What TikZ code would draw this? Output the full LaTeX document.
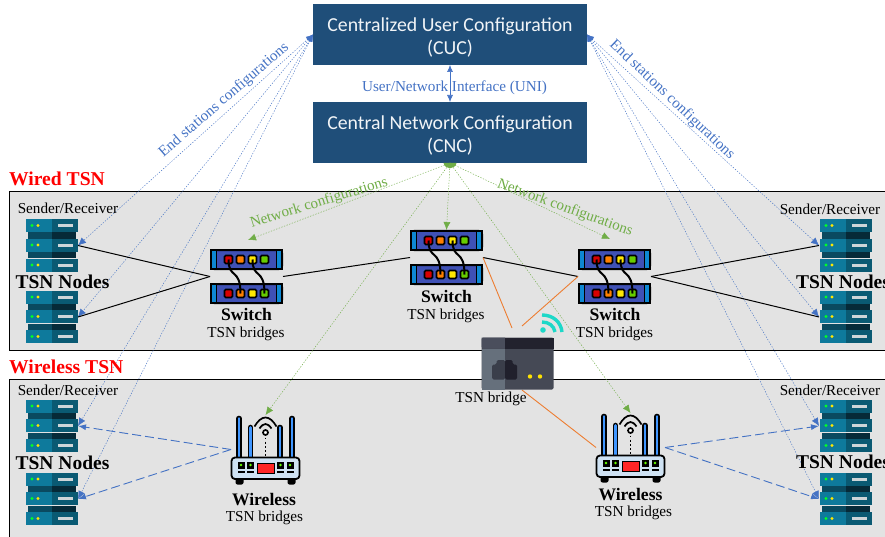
\documentclass[tikz,border=0pt]{standalone}
\usepackage{fontspec}
\setmainfont{Liberation Serif}
\newfontfamily\boxfont{Carlito}
\usetikzlibrary{arrows.meta}

\definecolor{boxblue}{HTML}{1F4E79}
\definecolor{panelgray}{HTML}{E3E3E3}
\definecolor{linkblue}{HTML}{4472C4}
\definecolor{linkgreen}{HTML}{70AD47}
\definecolor{linkorange}{HTML}{ED7D31}
\definecolor{switchblue}{HTML}{3F51B5}
\definecolor{routerblue}{HTML}{CFE2F3}
\definecolor{wifiteal}{HTML}{1DD8C8}
\definecolor{serverA}{HTML}{0E7A9C}
\definecolor{serverB}{HTML}{0A5A73}
\definecolor{serverC}{HTML}{0A4A60}
\definecolor{serverD}{HTML}{062A38}
\definecolor{bridgeA}{HTML}{4A4E5C}
\definecolor{bridgeB}{HTML}{22222E}
\definecolor{bridgeC}{HTML}{66707C}
\definecolor{bridgeD}{HTML}{454955}
\definecolor{socketA}{HTML}{3A3E4A}
\definecolor{socketB}{HTML}{20202C}

\tikzset{
    panel/.style={draw=black,fill=panelgray,line width=0.9pt},
    cfgbox/.style={fill=boxblue,text=white!94!boxblue,minimum width=274pt,minimum height=61pt,
        inner sep=0pt,outer sep=0pt,align=center,font=\boxfont\fontsize{19.8}{23}\selectfont},
    hostbox/.style={minimum width=53pt,minimum height=53pt,inner sep=0pt,outer sep=0pt},
    switchbox/.style={minimum width=73pt,minimum height=55pt,inner sep=0pt,outer sep=0pt},
    routerbox/.style={minimum width=69pt,minimum height=69pt,inner sep=0pt,outer sep=0pt},
    bridgebox/.style={minimum width=73pt,minimum height=53pt,inner sep=0pt,outer sep=0pt},
    cfglink/.style={line width=0.45pt,dash pattern=on 1.3pt off 1.5pt},
    bluelink/.style={cfglink,linkblue,{Latex[length=7pt,width=6pt]}-{Latex[length=8pt,width=7pt]}},
    greenlink/.style={cfglink,linkgreen,-{Latex[length=8pt,width=7pt]}},
    wirelink/.style={black,line width=1pt},
    radiolink/.style={linkblue,line width=0.9pt,dash pattern=on 9pt off 4pt,-{Latex[length=8pt,width=6pt]}},
    bridgelink/.style={linkorange,line width=0.9pt},
    title/.style={red,font=\bfseries\fontsize{19.6}{22}\selectfont,anchor=west,inner sep=0pt},
    small/.style={font=\fontsize{15.2}{17}\selectfont,inner sep=0pt},
    big/.style={font=\bfseries\fontsize{19.5}{22}\selectfont,inner sep=0pt},
    devname/.style={font=\bfseries\fontsize{17.6}{20}\selectfont,inner sep=0pt},
    bluetext/.style={linkblue,font=\fontsize{15.2}{17}\selectfont,inner sep=0pt},
    greentext/.style={linkgreen,font=\fontsize{15}{17}\selectfont,inner sep=0pt},
    % stack of three server units
    pics/serverstack/.style={code={
        \foreach \y in {-10,9.5} {
            \fill[serverC] (-24,\y-3) rectangle (0,\y+3);
            \fill[serverD] (0,\y-3) rectangle (24,\y+3);
        }
        \foreach \y in {-20,-0.5,19.5} {
            \fill[serverA] (-26,\y-6.5) rectangle (0,\y+6.5);
            \fill[serverB] (0,\y-6.5) rectangle (26,\y+6.5);
            \fill[green!85!cyan] (-19.5,\y) circle (1.6);
            \fill[yellow!90!orange] (-13.5,\y) circle (1.6);
            \fill[cyan!15!gray!40!white] (6.5,\y-1.5) rectangle (21.5,\y+1.5);
        }
    }},
    % two switch units with patch cables
    pics/switchstack/.style={code={
        \foreach \y in {-17,17} {
            \draw[black,line width=2pt,fill=switchblue,rounded corners=3pt] (-35.5,\y-9.5) rectangle (35.5,\y+9.5);
            \draw[black,line width=1.6pt,fill=cyan!70!blue] (-35.5,\y-9.5) rectangle (-30,\y+9.5);
            \draw[black,line width=1.6pt,fill=cyan!70!blue] (30,\y-9.5) rectangle (35.5,\y+9.5);
            \foreach \x/\c in {-18/red!85!black,-6/orange,6/yellow!90!orange,18/green!50!yellow!80!black} {
                \draw[black,line width=1.6pt,fill=\c,rounded corners=1.2pt] (\x-4,\y-4) rectangle (\x+4,\y+4);
            }
        }
        \foreach \x in {-18,6} {
            \draw[black,line width=2pt] (\x,-17) .. controls (\x,3) and (\x+12,-9) .. (\x+12,17);
        }
    }},
    % router with four antennas
    pics/routericon/.style={code={
        \foreach \x/\t in {-26.5/-33,-15/-24,14.5/-24,26.5/-33} {
            \draw[black,line width=5.6pt,line cap=round] (\x,\t+2) -- (\x,8);
            \draw[blue!55!cyan!75!white,line width=2.8pt,line cap=round] (\x,\t+2) -- (\x,8);
        }
        \draw[black,line width=1.7pt] (-11,-23) .. controls (-4,-35) and (4,-35) .. (11,-23);
        \draw[black,line width=1.7pt] (-6,-21) .. controls (-2,-27) and (2,-27) .. (6,-21);
        \draw[black,line width=1.7pt,fill=white] (0,-17) circle (2.5);
        \draw[black,line width=1.8pt,dash pattern=on 1.8pt off 2.4pt] (0,-12) -- (0,7);
        \fill[black,rounded corners=2pt] (-30,27) rectangle (-22,35);
        \fill[black,rounded corners=2pt] (22,27) rectangle (30,35);
        \draw[black,line width=1.8pt,fill=routerblue,rounded corners=3.5pt] (-34,8) rectangle (34,29.5);
        \draw[black,line width=1pt,fill=red!80!pink] (-8.5,14) rectangle (8.5,23.5);
        \foreach \x in {-24.5,-15,15,24.5} {
            \fill[black] (\x-3.5,12) rectangle (\x+3.5,19);
            \fill[green!60!yellow] (\x,15.5) circle (1.4);
            \fill[black] (\x-3.5,21) rectangle (\x+3.5,23);
        }
    }},
    % gateway box with ethernet socket
    pics/bridgeicon/.style={code={
        \fill[bridgeD,rounded corners=1.5pt] (-36,-26) rectangle (36,26);
        \fill[bridgeA] (-36,-26) [rounded corners=1.5pt] -- (-36,-15) [sharp corners] -- (-12.5,-15) -- (-12.5,-26) -- cycle;
        \fill[bridgeB] (-12.5,-26) rectangle (36,-15);
        \fill[bridgeC] (-36,-15) rectangle (-12.5,26);
        \fill[socketA,rounded corners=1.5pt] (-25.5,1) -- (-21,1) -- (-21,-3.5) -- (-12.5,-3.5) -- (-12.5,16) -- (-25.5,16) -- cycle;
        \fill[socketB,rounded corners=1.5pt] (-12.5,-3.5) -- (-5,-3.5) -- (-5,1) -- (-0.5,1) -- (-0.5,16) -- (-12.5,16) -- cycle;
        \fill[yellow!85!orange] (12.5,13) circle (2.2);
        \fill[yellow!85!orange] (22.5,13) circle (2.2);
    }},
    % wifi signal
    pics/wifimark/.style={code={
        \fill[wifiteal] (0,0) circle (2.8);
        \draw[wifiteal,line width=3.4pt] (-1,-8) .. controls (6,-8) and (11,-4) .. (12,2);
        \draw[wifiteal,line width=3.4pt] (-1,-15) .. controls (10,-15) and (18,-8) .. (19,2);
    }},
}

\begin{document}
\begin{tikzpicture}[x=1pt,y=-1pt]

    \useasboundingbox (0,0) rectangle (885,537);
    \begin{scope}
    \clip (0,0) rectangle (885,537);

    % Panels
    \draw[panel] (9,191.5) rectangle (895,350);
    \draw[panel] (9,379) rectangle (895,537);

    % Device positions
    \node[cfgbox] (cuc) at (450,34.5) {\rule{0pt}{19pt}Centralized User Configuration\\(CUC)};
    \node[cfgbox] (cnc) at (450,132.5) {\rule{0pt}{19pt}Central Network Configuration\\(CNC)};
    \node[hostbox] (hostA) at (51.5,245.5) {};
    \node[hostbox] (hostB) at (51.5,317) {};
    \node[hostbox] (hostC) at (51.5,426) {};
    \node[hostbox] (hostD) at (51.5,499) {};
    \node[hostbox] (hostE) at (845.5,245.5) {};
    \node[hostbox] (hostF) at (845.5,317) {};
    \node[hostbox] (hostG) at (845.5,426) {};
    \node[hostbox] (hostH) at (845.5,499) {};
    \node[switchbox] (switchL) at (246.5,276.5) {};
    \node[switchbox] (switchM) at (446.5,257.5) {};
    \node[switchbox] (switchR) at (614.5,276.5) {};
    \node[routerbox] (routerL) at (265.5,449.5) {};
    \node[routerbox] (routerR) at (630.5,447.5) {};
    \node[bridgebox] (bridge) at (517.5,363.5) {};
    \coordinate (bridgeInA) at (512,328);
    \coordinate (bridgeInB) at (522,326);
    \coordinate (bridgeOut) at (522,390);
    \coordinate (switchTipL) at (248,240);
    \coordinate (switchTipR) at (610,239);

    % End station configuration links
    \foreach \h in {hostA,hostB,hostC,hostD} {
        \draw[bluelink] (cuc.west) -- (\h.east);
    }
    \foreach \h in {hostE,hostF,hostG,hostH} {
        \draw[bluelink] (cuc.east) -- (\h.west);
    }
    \draw[linkblue,line width=0.6pt,{Latex[length=7pt,width=6pt]}-{Latex[length=7pt,width=6pt]}] (cuc.south) -- (cnc.north);

    % Network configuration links
    \draw[greenlink] (cnc.south) -- (switchTipL);
    \draw[greenlink] (cnc.south) -- (switchM.north);
    \draw[greenlink] (cnc.south) -- (switchTipR);
    \draw[greenlink] (cnc.south) -- (routerL.north);
    \draw[greenlink] (cnc.south) -- (routerR.north);
    \fill[linkgreen] (443.5,163) .. controls (445,170) and (455,170) .. (456.5,163) -- cycle;

    % Wired links
    \draw[wirelink] (hostA.east) -- (switchL.west);
    \draw[wirelink] (hostB.east) -- (switchL.west);
    \draw[wirelink] (switchL.east) -- (switchM.west);
    \draw[wirelink] (switchM.east) -- (switchR.west);
    \draw[wirelink] (switchR.east) -- (hostE.west);
    \draw[wirelink] (switchR.east) -- (hostF.west);

    % Bridge links
    \draw[bridgelink] (switchM.east) -- (bridgeInA);
    \draw[bridgelink] (switchR.west) -- (bridgeInB);
    \draw[bridgelink] (bridgeOut) -- (routerR.west);

    % Wireless links
    \draw[radiolink] (routerL.west) -- (hostC.east);
    \draw[radiolink] (routerL.west) -- (hostD.east);
    \draw[radiolink] (routerR.east) -- (hostG.west);
    \draw[radiolink] (routerR.east) -- (hostH.west);

    % Icons
    \foreach \h in {hostA,hostB,hostC,hostD,hostE,hostF,hostG,hostH} {
        \pic at (\h) {serverstack};
    }
    \foreach \s in {switchL,switchM,switchR} {
        \pic at (\s) {switchstack};
    }
    \pic at (routerL) {routericon};
    \pic at (routerR) {routericon};
    \pic at (bridge) {bridgeicon};
    \pic at (543,330) {wifimark};

    % Labels
    \node[title] (wiredT) at (9,178.5) {Wired TSN};
    \node[title] (wirelessT) at (9,367) {Wireless TSN};
    \node[bluetext] (uniT) at (454.5,87.5) {User/Network Interface (UNI)};
    \node[bluetext,rotate=41] (endT) at (224,100) {End stations configurations};
    \node[bluetext,rotate=-43.5] (endU) at (672,100) {End stations configurations};
    \node[greentext,rotate=17] (netT) at (319,203) {Network configurations};
    \node[greentext,rotate=-20] (netU) at (565,208) {Network configurations};
    \node[small] (sendA) at (68,208.5) {Sender/Receiver};
    \node[small] (sendB) at (830,209.5) {Sender/Receiver};
    \node[small] (sendC) at (68,390.5) {Sender/Receiver};
    \node[small] (sendD) at (830,390.5) {Sender/Receiver};
    \node[big] (nodesA) at (62.5,282) {TSN Nodes};
    \node[big] (nodesB) at (843,282) {TSN Nodes};
    \node[big] (nodesC) at (62.5,463) {TSN Nodes};
    \node[big] (nodesD) at (843,462) {TSN Nodes};
    \node[devname] (nameA) at (246.5,314.5) {Switch};
    \node[small] (subA) at (246,334) {TSN bridges};
    \node[devname] (nameB) at (446.5,296.5) {Switch};
    \node[small] (subB) at (446,316) {TSN bridges};
    \node[devname] (nameC) at (615,314.5) {Switch};
    \node[small] (subC) at (614.5,334) {TSN bridges};
    \node[devname] (nameD) at (264,499.5) {Wireless};
    \node[small] (subD) at (264.5,518) {TSN bridges};
    \node[devname] (nameE) at (630.5,494.5) {Wireless};
    \node[small] (subE) at (633.5,513) {TSN bridges};
    \node[small] (bridgeT) at (491,398.5) {TSN bridge};

    \end{scope}

\end{tikzpicture}
\end{document}
